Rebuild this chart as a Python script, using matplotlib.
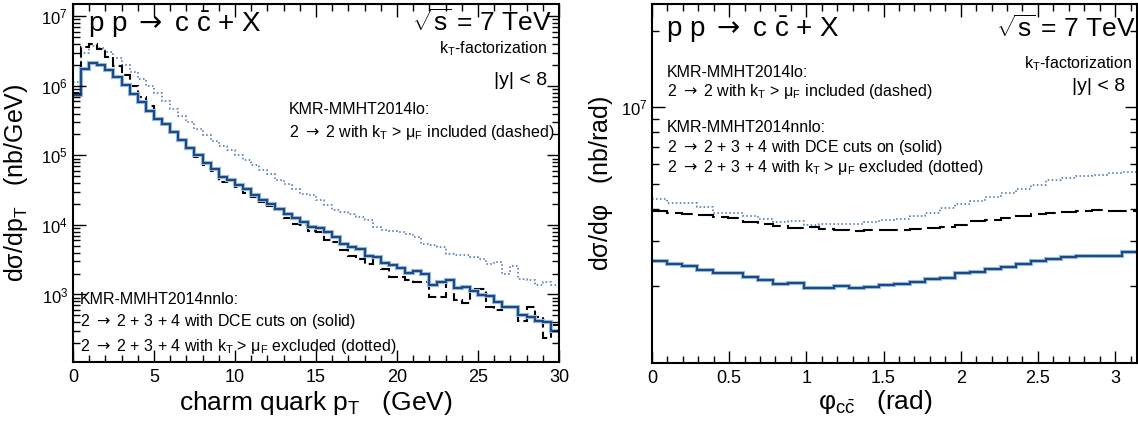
import numpy as np
import matplotlib
matplotlib.use("Agg")
import matplotlib.pyplot as plt
from matplotlib.ticker import (MultipleLocator, LogLocator, NullFormatter, FixedLocator,
                               FixedFormatter, FormatStrFormatter)

plt.rcParams["font.family"] = ["Liberation Sans", "DejaVu Sans"]
plt.rcParams["mathtext.fontset"] = "custom"
plt.rcParams["mathtext.rm"] = "Liberation Sans"
plt.rcParams["mathtext.it"] = "Liberation Sans"
plt.rcParams["mathtext.bf"] = "Liberation Sans:bold"
plt.rcParams["mathtext.sf"] = "DejaVu Sans"

# ---- left panel: charm quark pT, 0.5 GeV bins ----
pt_edges = np.linspace(0, 30, 61)

pt_solid = [7.3e5, 1.77e6, 2.16e6, 2.02e6, 1.71e6, 1.34e6, 1.02e6, 7.7e5, 5.8e5, 4.4e5,
            3.3e5, 2.86e5, 2.16e5, 1.64e5, 1.29e5, 1.0e5, 7.7e4, 6.4e4, 4.9e4, 4.5e4,
            3.8e4, 3.3e4, 2.7e4, 2.25e4, 1.97e4, 1.71e4, 1.45e4, 1.25e4, 1.10e4, 9.3e3,
            9.1e3, 7.9e3, 6.7e3, 5.4e3, 4.8e3, 4.55e3, 3.6e3, 3.5e3, 2.84e3, 2.65e3,
            2.4e3, 2.07e3, 2.16e3, 1.94e3, 1.35e3, 1.50e3, 1.59e3, 1.25e3, 1.30e3, 1.14e3,
            9.7e2, 9.6e2, 7.7e2, 6.7e2, 6.6e2, 5.15e2, 4.8e2, 4.2e2, 4.0e2, 3.0e2]

pt_dashed = [8.0e5, 3.6e6, 4.05e6, 3.4e6, 2.6e6, 1.9e6, 1.45e6, 1.0e6, 7.0e5, 5.2e5,
             3.5e5, 2.8e5, 2.15e5, 1.6e5, 1.25e5, 9.6e4, 7.3e4, 5.9e4, 4.1e4, 4.4e4,
             3.5e4, 2.87e4, 2.5e4, 2.13e4, 1.85e4, 1.62e4, 1.27e4, 1.02e4, 1.0e4, 8.3e3,
             7.9e3, 6.0e3, 5.7e3, 4.3e3, 3.6e3, 3.27e3, 2.7e3, 3.3e3, 2.34e3, 1.77e3,
             1.8e3, 1.59e3, 1.50e3, 1.50e3, 9.1e2, 9.1e2, 1.59e3, 8.4e2, 7.5e2, 1.21e3,
             1.21e3, 6.7e2, 5.9e2, 6.7e2, 6.6e2, 4.1e2, 6.7e2, 4.7e2, 2.4e2, 3.6e2]

pt_dotted = [1.13e6, 3.0e6, 3.7e6, 3.55e6, 3.1e6, 2.55e6, 2.0e6, 1.57e6, 1.25e6, 9.8e5,
             7.8e5, 6.0e5, 4.6e5, 3.7e5, 3.0e5, 2.4e5, 1.95e5, 1.63e5, 1.38e5, 1.18e5,
             1.0e5, 8.5e4, 7.2e4, 6.1e4, 5.45e4, 4.37e4, 3.92e4, 3.32e4, 2.81e4, 2.66e4,
             2.25e4, 1.91e4, 1.62e4, 1.53e4, 1.45e4, 1.29e4, 1.16e4, 9.3e3, 8.5e3, 8.3e3,
             7.9e3, 7.5e3, 6.7e3, 5.4e3, 5.1e3, 4.8e3, 3.85e3, 3.64e3, 3.64e3, 3.44e3,
             3.27e3, 2.77e3, 2.92e3, 1.94e3, 2.61e3, 1.68e3, 1.59e3, 1.35e3, 1.50e3, 1.35e3]

# ---- right panel: azimuthal angle, 32 bins over [0, pi] ----
phi_edges = np.linspace(0, np.pi, 33)

phi_solid = [2.51e6, 2.45e6, 2.40e6, 2.32e6, 2.24e6, 2.25e6, 2.17e6, 2.12e6, 2.04e6, 2.05e6,
             1.97e6, 1.96e6, 2.01e6, 1.97e6, 1.99e6, 2.02e6, 2.04e6, 2.07e6, 2.13e6, 2.16e6,
             2.24e6, 2.26e6, 2.33e6, 2.38e6, 2.44e6, 2.51e6, 2.55e6, 2.59e6, 2.63e6, 2.62e6,
             2.63e6, 2.71e6]

phi_dashed = [3.95e6, 3.88e6, 3.83e6, 3.80e6, 3.72e6, 3.68e6, 3.55e6, 3.50e6, 3.45e6, 3.36e6,
              3.39e6, 3.33e6, 3.31e6, 3.29e6, 3.30e6, 3.31e6, 3.31e6, 3.33e6, 3.38e6, 3.42e6,
              3.48e6, 3.58e6, 3.64e6, 3.69e6, 3.77e6, 3.83e6, 3.87e6, 3.91e6, 3.92e6, 3.97e6,
              3.95e6, 3.95e6]

phi_dotted = [4.39e6, 4.22e6, 4.22e6, 4.07e6, 3.88e6, 3.86e6, 3.75e6, 3.66e6, 3.55e6, 3.60e6,
              3.48e6, 3.50e6, 3.50e6, 3.50e6, 3.55e6, 3.62e6, 3.66e6, 3.77e6, 3.85e6, 4.03e6,
              4.19e6, 4.29e6, 4.45e6, 4.61e6, 4.80e6, 4.99e6, 5.20e6, 5.30e6, 5.41e6, 5.46e6,
              5.53e6, 5.57e6]

arrow = r"$\mathsf{\rightarrow}$"
title_txt = "p p " + arrow + r" c $\bar{\mathrm{c}}$ + X"
sqrt_txt = r"$\sqrt{\mathrm{s}}$ = 7 TeV"
kt_txt = r"k$_T$-factorization"
y_txt = "|y| < 8"
lo_head = "KMR-MMHT2014lo:"
lo_line = "2 " + arrow + r" 2 with k$_T$ > μ$_F$ included (dashed)"
nnlo_head = "KMR-MMHT2014nnlo:"
nnlo_line1 = "2 " + arrow + " 2 + 3 + 4 with DCE cuts on (solid)"
nnlo_line2 = "2 " + arrow + r" 2 + 3 + 4 with k$_T$ > μ$_F$ excluded (dotted)"

dark_blue = "#1b4a85"
light_blue = "#9dbcdc"
dot_blue = "#3d6fa8"

fig = plt.figure(figsize=(11.38, 4.28), dpi=100)
ax1 = fig.add_axes([0.0641, 0.1542, 0.4271, 0.8364])
ax2 = fig.add_axes([0.5729, 0.1519, 0.4262, 0.8388])


def draw(ax, edges, solid, dashed, dotted, dash_pat):
    ax.stairs(dotted, edges, color=dot_blue, lw=1.1, ls=(0, (1, 1.6)), baseline=None)
    ax.stairs(dashed, edges, color="black", lw=1.5, ls=(0, dash_pat), baseline=None)
    ax.stairs(solid, edges, color=light_blue, lw=3.0, baseline=None)
    ax.stairs(solid, edges, color=dark_blue, lw=1.5, baseline=None)


def frame(ax):
    for sp in ax.spines.values():
        sp.set_linewidth(1.5)
    ax.tick_params(which="both", direction="in", top=True, right=True)
    ax.tick_params(axis="x", labelsize=13, pad=5)
    ax.tick_params(axis="y", labelsize=12)
    ax.tick_params(which="major", length=9, width=1)
    ax.tick_params(which="minor", length=5, width=1)


draw(ax1, pt_edges, pt_solid, pt_dashed, pt_dotted, (5, 2))
ax1.set_yscale("log")
ax1.set_xlim(0, 30)
ax1.set_ylim(107, 1.5e7)
ax1.xaxis.set_major_locator(MultipleLocator(5))
ax1.xaxis.set_minor_locator(MultipleLocator(1))
ax1.xaxis.set_major_formatter(FormatStrFormatter("%g"))
ax1.yaxis.set_major_locator(LogLocator(base=10, numticks=20))
ax1.yaxis.set_minor_locator(LogLocator(base=10, subs=np.arange(2, 10), numticks=20))
ax1.yaxis.set_minor_formatter(NullFormatter())
frame(ax1)
ax1.set_xlabel(r"charm quark p$_T$   (GeV)", fontsize=19, labelpad=2)
ax1.set_ylabel(r"d$\sigma$/dp$_T$   (nb/GeV)", fontsize=18, labelpad=8)

ax1.text(0.03, 0.985, title_txt, transform=ax1.transAxes, fontsize=20, va="top", ha="left")
ax1.text(0.985, 0.985, sqrt_txt, transform=ax1.transAxes, fontsize=19, va="top", ha="right")
ax1.text(0.975, 0.875, kt_txt, transform=ax1.transAxes, fontsize=11.5, va="center", ha="right")
ax1.text(0.975, 0.785, y_txt, transform=ax1.transAxes, fontsize=14, va="center", ha="right")
ax1.text(0.445, 0.705, lo_head, transform=ax1.transAxes, fontsize=11.5, va="center")
ax1.text(0.445, 0.64, lo_line, transform=ax1.transAxes, fontsize=11.5, va="center")
ax1.text(0.015, 0.175, nnlo_head, transform=ax1.transAxes, fontsize=11.5, va="center")
ax1.text(0.015, 0.112, nnlo_line1, transform=ax1.transAxes, fontsize=11.5, va="center")
ax1.text(0.015, 0.043, nnlo_line2, transform=ax1.transAxes, fontsize=11.5, va="center")

draw(ax2, phi_edges, phi_solid, phi_dashed, phi_dotted, (9, 3))
ax2.set_yscale("log")
ax2.set_xlim(0, np.pi)
ax2.set_ylim(1.0e6, 2.54e7)
ax2.xaxis.set_major_locator(MultipleLocator(0.5))
ax2.xaxis.set_minor_locator(MultipleLocator(0.1))
ax2.xaxis.set_major_formatter(FormatStrFormatter("%g"))
ax2.yaxis.set_major_locator(FixedLocator([1e7]))
ax2.yaxis.set_major_formatter(FixedFormatter([r"$10^{7}$"]))
ax2.yaxis.set_minor_locator(FixedLocator([2e6, 3e6, 4e6, 5e6, 6e6, 7e6, 8e6, 9e6, 2e7]))
ax2.yaxis.set_minor_formatter(NullFormatter())
frame(ax2)
ax2.set_xlabel(r"$\varphi_{\mathrm{c}\bar{\mathrm{c}}}$   (rad)", fontsize=19, labelpad=2)
ax2.xaxis.set_label_coords(0.46, -0.07)
ax2.set_ylabel(r"d$\sigma$/d$\varphi$   (nb/rad)", fontsize=18, labelpad=4)

ax2.text(0.028, 0.97, title_txt, transform=ax2.transAxes, fontsize=20, va="top", ha="left")
ax2.text(0.998, 0.97, sqrt_txt, transform=ax2.transAxes, fontsize=19, va="top", ha="right")
ax2.text(0.99, 0.835, kt_txt, transform=ax2.transAxes, fontsize=11.5, va="center", ha="right")
ax2.text(0.975, 0.77, y_txt, transform=ax2.transAxes, fontsize=14, va="center", ha="right")
ax2.text(0.03, 0.81, lo_head, transform=ax2.transAxes, fontsize=11.5, va="center")
ax2.text(0.03, 0.755, lo_line, transform=ax2.transAxes, fontsize=11.5, va="center")
ax2.text(0.03, 0.655, nnlo_head, transform=ax2.transAxes, fontsize=11.5, va="center")
ax2.text(0.03, 0.6, nnlo_line1, transform=ax2.transAxes, fontsize=11.5, va="center")
ax2.text(0.03, 0.545, nnlo_line2, transform=ax2.transAxes, fontsize=11.5, va="center")

fig.savefig("out.png", dpi=100)
